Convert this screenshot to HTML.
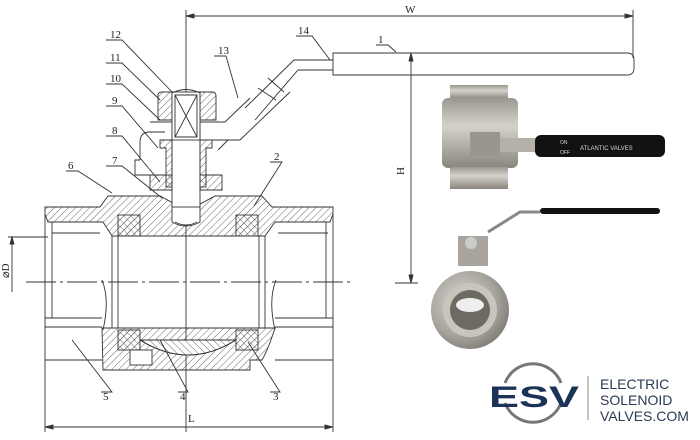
<!DOCTYPE html>
<html><head><meta charset="utf-8"><style>
html,body{margin:0;padding:0;background:#fff}
svg{display:block}
text{font-family:"Liberation Serif",serif;fill:#222}
text.s{font-family:"Liberation Sans",sans-serif}
</style></head><body>
<svg width="700" height="440" viewBox="0 0 700 440" xmlns="http://www.w3.org/2000/svg">
<defs>
<pattern id="h" width="5" height="5" patternUnits="userSpaceOnUse" patternTransform="rotate(45)">
<line x1="0" y1="0" x2="0" y2="5" stroke="#444" stroke-width="0.8"/></pattern>
<pattern id="h2" width="5" height="5" patternUnits="userSpaceOnUse" patternTransform="rotate(-45)">
<line x1="0" y1="0" x2="0" y2="5" stroke="#444" stroke-width="0.8"/></pattern>
<pattern id="x" width="5" height="5" patternUnits="userSpaceOnUse" patternTransform="rotate(45)">
<line x1="0" y1="0" x2="0" y2="5" stroke="#444" stroke-width="0.7"/><line x1="0" y1="0" x2="5" y2="0" stroke="#444" stroke-width="0.7"/></pattern>
<radialGradient id="steel" cx="0.4" cy="0.4" r="0.7"><stop offset="0" stop-color="#d8d6d2"/><stop offset="0.6" stop-color="#a9a6a0"/><stop offset="1" stop-color="#77736c"/></radialGradient>
<linearGradient id="sv" x1="0" y1="0" x2="0" y2="1"><stop offset="0" stop-color="#9c9890"/><stop offset="0.4" stop-color="#d5d2cc"/><stop offset="1" stop-color="#8a867e"/></linearGradient>
</defs>
<g stroke="#333" stroke-width="0.9" fill="none">
<line x1="186" y1="16" x2="633" y2="16"/>
<path d="M186 16 l8 -2 v4z M633 16 l-8 -2 v4z" fill="#333"/>
<line x1="633" y1="10" x2="633" y2="58"/>
<line x1="186" y1="10" x2="186" y2="432"/>
<path d="M333 53 H627 Q634 53 634 60 V68 Q634 75 627 75 H333 Z"/>
<path d="M333 60 H294 L245 108 M333 70 H298 L255 120"/>
<line x1="258" y1="88" x2="276" y2="100"/><line x1="268" y1="78" x2="284" y2="92"/>
<line x1="395" y1="53" x2="418" y2="53"/><line x1="395" y1="283" x2="418" y2="283"/>
<line x1="411" y1="53" x2="411" y2="283"/>
<path d="M411 53 l-2 8 h4z M411 283 l-2 -8 h4z" fill="#333"/>
<line x1="26" y1="282" x2="350" y2="282" stroke-dasharray="30 4 3 4"/>
<line x1="12" y1="237" x2="12" y2="292"/><line x1="8" y1="237" x2="48" y2="237"/>
<path d="M12 237 l-2 7 h4z" fill="#333"/>
<line x1="45" y1="372" x2="45" y2="432"/><line x1="333" y1="372" x2="333" y2="432"/>
<line x1="45" y1="427" x2="333" y2="427"/>
<path d="M45 427 l8 -2 v4z M333 427 l-8 -2 v4z" fill="#333"/>
<path d="M45 207 H100 L108 196 H160 L175 204 H200 L215 196 H262 L272 207 H333 V214 L330 222 H275 L265 236 H112 L103 222 H48 L45 214 Z" fill="url(#h)"/>
<path d="M48 222 H103 M275 222 H330"/>
<path d="M52 233 H100 M278 233 H328"/>
<line x1="52" y1="222" x2="52" y2="318"/><line x1="326" y1="222" x2="326" y2="318"/>
<line x1="45" y1="214" x2="45" y2="372"/><line x1="333" y1="214" x2="333" y2="372"/>
<path d="M45 318 H102 M45 327 H102 M45 360 H102 M275 318 H333 M275 327 H333 M275 360 H333"/>
<rect x="112" y="236" width="153" height="92"/>
<line x1="118" y1="236" x2="118" y2="328"/><line x1="259" y1="236" x2="259" y2="328"/>
<path d="M102 280 Q110 300 103 330 M276 280 Q268 300 275 330"/>
<rect x="118" y="215" width="22" height="21" fill="url(#x)"/>
<rect x="236" y="215" width="22" height="21" fill="url(#x)"/>
<path d="M102 328 H275 Q268 350 262 360 H250 V370 H103 Z" fill="url(#h)"/>
<path d="M140 340 Q188 370 236 340" fill="#fff"/>
<path d="M140 340 Q188 370 236 340 Z" fill="url(#h2)"/>
<rect x="118" y="330" width="22" height="20" fill="url(#x)"/>
<rect x="236" y="330" width="22" height="20" fill="url(#x)"/>
<rect x="130" y="350" width="22" height="15" fill="#fff"/>
<path d="M172 204 V222 Q186 230 200 222 V204" fill="#fff"/>
<path d="M175 222 Q186 228 197 222"/>
<rect x="172" y="125" width="28" height="82" fill="#fff"/>
<path d="M150 175 H166 V148 H160 V140 H172 V190 H150 Z" fill="url(#h)"/>
<path d="M200 140 H212 V148 H206 V175 H222 V190 H200 Z" fill="url(#h)"/>
<rect x="166" y="175" width="6" height="12" fill="url(#x)"/>
<rect x="200" y="175" width="6" height="12" fill="url(#x)"/>
<path d="M140 160 V142 Q140 132 150 132 H165 M140 160 H135 V175 H150"/>
<path d="M212 140 H240 L290 92 M218 150 L228 140"/>
<path d="M158 95 Q158 92 162 92 H172 V120 H158 Z" fill="url(#h)"/>
<path d="M200 92 H212 Q216 92 216 96 V120 H200 Z" fill="url(#h)"/>
<rect x="172" y="92" width="28" height="48" fill="#fff"/>
<path d="M175 95 L197 137 M197 95 L175 137 M175 95 H197 V137 H175 Z"/>
<path d="M172 93 Q186 86 200 93"/>
<path d="M150 122 H172 M200 122 H225 L250 98"/>
<path d="M106 40 H122 L172 92 M106 63 H122 L160 100 M106 84 H122 L160 120 M106 106 H122 L158 148 M106 136 H122 L160 182 M106 166 H122 L162 198 M66 171 H78 L112 193 M214 56 H226 L238 98 M296 36 H312 L330 60 M376 45 H388 L396 52 M270 162 H282 L254 206 M101 392 H112 L72 340 M178 392 H188 L160 340 M270 392 H280 L248 342"/>
</g>
<g font-size="11">
<text x="110" y="38">12</text><text x="110" y="61">11</text><text x="110" y="82">10</text>
<text x="112" y="104">9</text><text x="112" y="134">8</text><text x="112" y="164">7</text>
<text x="68" y="169">6</text><text x="218" y="54">13</text><text x="298" y="34">14</text>
<text x="378" y="43">1</text><text x="274" y="160">2</text>
<text x="103" y="400">5</text><text x="180" y="400">4</text><text x="273" y="400">3</text>
<text x="405" y="13">W</text><text x="188" y="422">L</text>
<text x="0" y="0" transform="translate(404 175) rotate(-90)">H</text>
<text x="0" y="0" transform="translate(9 278) rotate(-90)">⌀D</text>
</g>
<!-- photo 1 -->
<rect x="450" y="85" width="58" height="14" fill="url(#sv)"/>
<rect x="442" y="98" width="76" height="70" rx="6" fill="url(#sv)"/>
<rect x="450" y="167" width="58" height="22" fill="url(#sv)"/>
<rect x="470" y="132" width="30" height="24" fill="#9a968f"/>
<rect x="500" y="138" width="36" height="14" fill="#b5b1aa"/>
<rect x="535" y="135" width="130" height="22" rx="6" fill="#111"/>
<text class="s" x="560" y="144" font-size="5" style="fill:#ddd">ON</text>
<text class="s" x="560" y="154" font-size="5" style="fill:#ddd">OFF</text>
<text class="s" x="580" y="150" font-size="6" style="fill:#ddd">ATLANTIC VALVES</text>
<!-- photo 2 -->
<path d="M488 232 L520 212 H540" stroke="#888" stroke-width="3" fill="none"/>
<rect x="540" y="208" width="120" height="6" rx="3" fill="#111"/>
<rect x="458" y="236" width="30" height="30" fill="#a9a59e"/>
<circle cx="471" cy="243" r="6" fill="#ccc"/>
<circle cx="470" cy="310" r="39" fill="url(#steel)"/>
<circle cx="470" cy="310" r="27" fill="#c9c5bd"/>
<circle cx="470" cy="310" r="20" fill="#6e6a62"/>
<ellipse cx="470" cy="305" rx="14" ry="7" fill="#eee"/>
<!-- logo -->
<path d="M505 383 A30 30 0 0 1 561 383" stroke="#777" stroke-width="3" fill="none"/>
<path d="M505 403 A30 30 0 0 0 561 403" stroke="#777" stroke-width="3" fill="none"/>
<text class="s" x="489" y="407" font-size="30" font-weight="bold" style="fill:#1c3358" textLength="90" lengthAdjust="spacingAndGlyphs">ESV</text>
<line x1="588" y1="376" x2="588" y2="420" stroke="#999" stroke-width="1.2"/>
<g font-size="14">
<text class="s" x="600" y="389" style="fill:#2a3b55">ELECTRIC</text>
<text class="s" x="600" y="405" style="fill:#2a3b55">SOLENOID</text>
<text class="s" x="600" y="421" style="fill:#2a3b55">VALVES.COM</text>
</g>
</svg>
</body></html>
